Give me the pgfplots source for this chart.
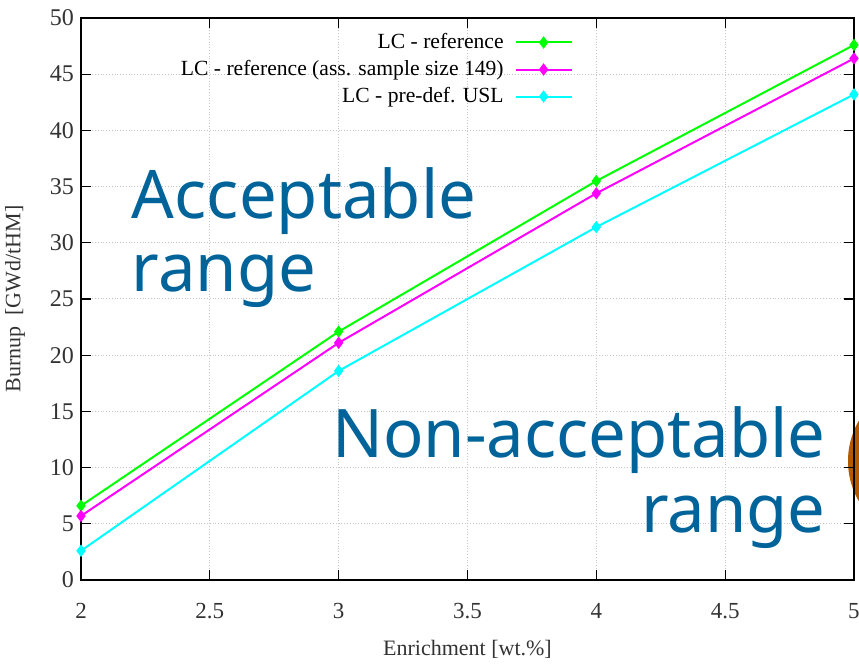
\documentclass[border=0pt]{standalone}
\usepackage{fontspec}
\setmainfont{Liberation Serif}
\newfontfamily\bigfont{Noto Sans}
\usepackage{pgfplots}
\pgfplotsset{compat=1.18}
\definecolor{txtblue}{RGB}{0,100,154}
\definecolor{orng}{RGB}{179,89,0}
\definecolor{lgreen}{RGB}{0,255,0}
\definecolor{lmag}{RGB}{255,0,255}
\definecolor{lcyan}{RGB}{0,255,255}
\begin{document}
\begin{tikzpicture}
\path[use as bounding box] (-40.5pt,-42pt) rectangle (389pt,290pt);
\begin{scope}
\clip (-40.5pt,-42pt) rectangle (389pt,290pt);
\fill[orng] (423.5pt,59.5pt) circle (40pt);
\end{scope}
\begin{axis}[
  at={(0,0)}, anchor=south west,
  scale only axis, width=386.5pt, height=281pt,
  xmin=2, xmax=5, ymin=0, ymax=50,
  xtick={2,2.5,...,5}, ytick={0,5,...,50},
  xticklabels={2,2.5,3,3.5,4,4.5,5},
  /pgf/number format/assume math mode=true,
  tick label style={font=\fontsize{11.5}{13}\selectfont, text=black!80},
  yticklabel style={font=\fontsize{12}{14}\selectfont},
  xticklabel style={yshift=-8pt},
  tick align=inside, major tick length=5pt,
  tick style={black, line width=0.6pt},
  axis line style={black, line width=0.6pt},
  grid=major, major grid style={densely dotted, gray!45, line width=0.5pt},
  xlabel={Enrichment [wt.\%]}, ylabel={Burnup\ \ [GWd/tHM]},
  label style={font=\fontsize{11}{13}\selectfont, text=black!80},
  xlabel style={at={(0.5,0)}, anchor=base, yshift=-38pt},
  ylabel style={at={(axis description cs:-0.0854,0.5)}, anchor=center},
  legend style={at={(247pt,276.5pt)}, anchor=north east, draw=none, fill=none,
     font=\fontsize{10.8}{13}\selectfont, row sep=0.4pt, inner sep=1pt,
     /tikz/every odd column/.append style={column sep=3.5pt}},
  legend cell align=right, legend plot pos=right,
  legend image code/.code={\draw[mark repeat=2, mark phase=2] plot coordinates {(0pt,0pt) (14pt,0pt) (28pt,0pt)};},
  every axis plot/.append style={line width=1pt, mark=diamond*, mark size=2.3pt},
  clip=false,
]
\addplot[lgreen, mark options={fill=lgreen}] coordinates {(2,6.6) (3,22.1) (4,35.5) (5,47.6)};
\addlegendentry{LC - reference}
\addplot[lmag, mark options={fill=lmag}] coordinates {(2,5.7) (3,21.1) (4,34.4) (5,46.4)};
\addlegendentry{LC - reference (ass. sample size 149)}
\addplot[lcyan, mark options={fill=lcyan}] coordinates {(2,2.6) (3,18.6) (4,31.4) (5,43.2)};
\addlegendentry{LC - pre-def. USL}
\end{axis}
\begin{scope}[every node/.style={inner sep=0pt, text=txtblue, font=\bigfont\fontsize{33.5}{36}\selectfont}]
\node[anchor=base west] at (25.3pt,180.9pt) {Acceptable};
\node[anchor=base west] at (25.3pt,144.2pt) {range};
\node[anchor=base east] at (372.5pt,61pt) {Non-acceptable};
\node[anchor=base east] at (372.5pt,23.5pt) {range};
\end{scope}
\end{tikzpicture}
\end{document}
